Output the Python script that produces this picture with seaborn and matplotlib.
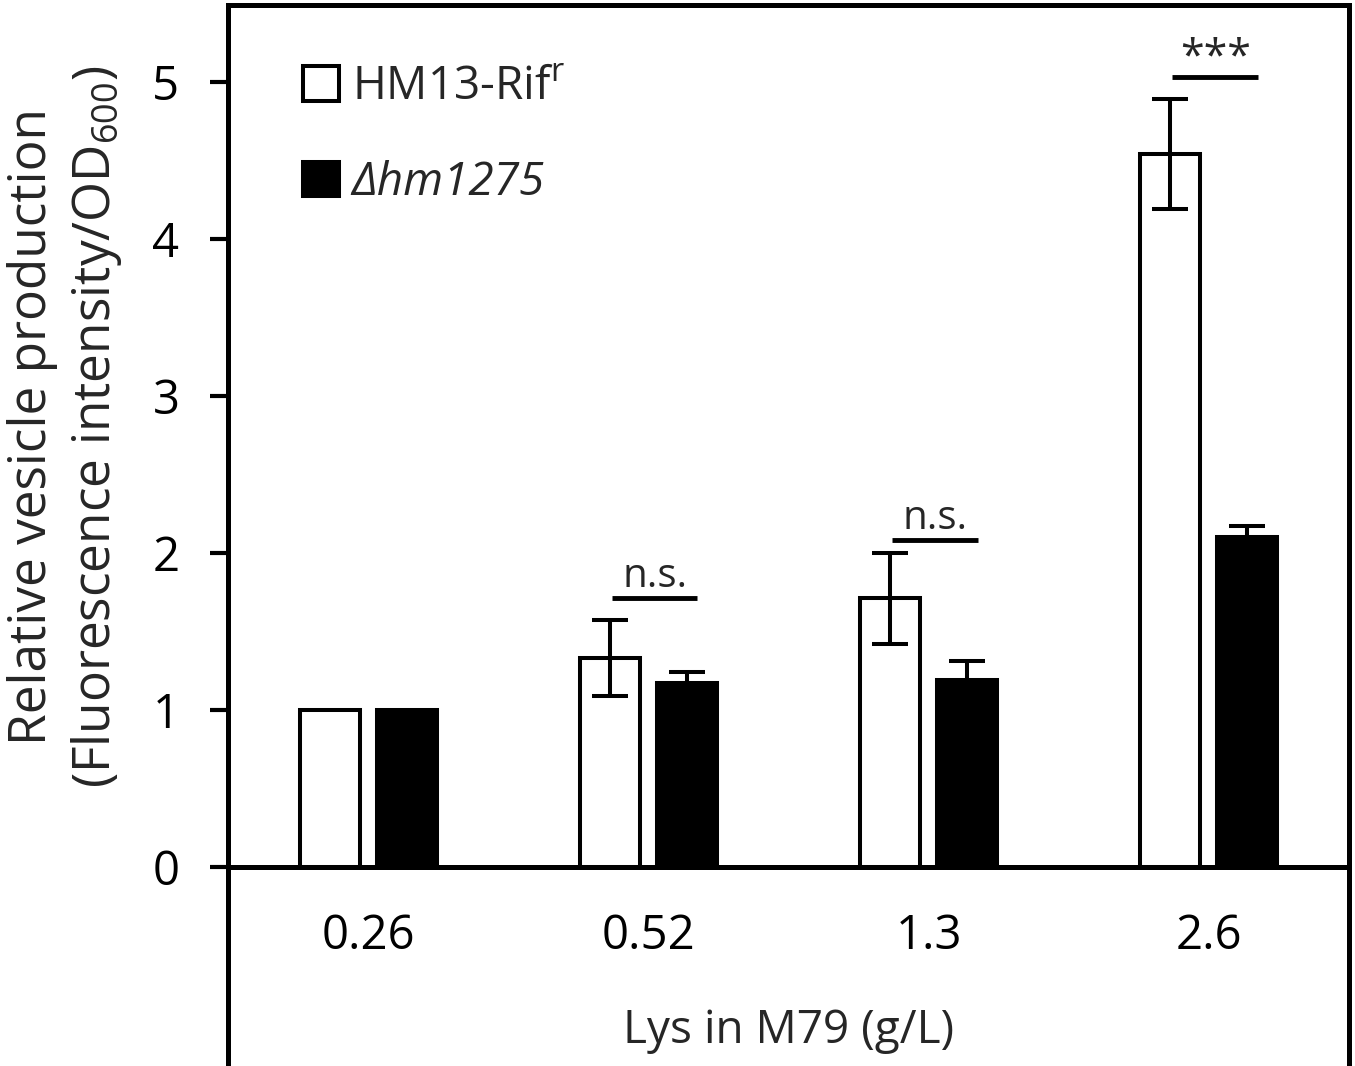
import numpy as np
import pandas as pd
import matplotlib
matplotlib.use("Agg")
import matplotlib.pyplot as plt
import seaborn as sns

# ---- data ----
categories = ["0.26", "0.52", "1.3", "2.6"]
strains = ["HM13-Rif", "hm1275"]
wt_mean = [1.00, 1.33, 1.71, 4.54]
wt_err = [0.00, 0.24, 0.29, 0.35]
ko_mean = [1.00, 1.17, 1.19, 2.10]
ko_err = [0.00, 0.07, 0.12, 0.07]
sig_labels = ["", "n.s.", "n.s.", "***"]
sig_y = [np.nan, 1.71, 2.08, 5.03]
legend_labels = ["HM13-Rif$^{\\mathregular{r}}$", "Δhm1275"]
y_ticks = [0, 1, 2, 3, 4, 5]

df = pd.DataFrame({
    "Lys": categories * 2,
    "strain": [strains[0]] * 4 + [strains[1]] * 4,
    "value": wt_mean + ko_mean,
})
errs = {strains[0]: wt_err, strains[1]: ko_err}

sns.set_style("white")
plt.rcParams["font.family"] = ["Open Sans", "DejaVu Sans"]
plt.rcParams["mathtext.fontset"] = "custom"
plt.rcParams["mathtext.rm"] = "Open Sans"
plt.rcParams["mathtext.it"] = "Open Sans:italic"
plt.rcParams["mathtext.bf"] = "Open Sans:bold"

FS_TICK = 34
FS_XLAB = 33
FS_LEG = 33
FS_YLAB = 37
LW = 2.9

fig = plt.figure(figsize=(13.55, 10.66), dpi=100)
ax = fig.add_axes([228 / 1355, 0.0, 1121 / 1355, 1061 / 1066])

sns.barplot(data=df, x="Lys", y="value", hue="strain", order=categories,
            hue_order=strains, palette={strains[0]: "white", strains[1]: "black"},
            saturation=1, edgecolor="black", linewidth=LW, width=0.55, gap=0.22,
            errorbar=None, ax=ax, legend=True, zorder=2)

# error bars from bar geometry
for cont, s in zip(ax.containers, strains):
    xs, ys, es = [], [], []
    for bar, e in zip(cont, errs[s]):
        if e > 0:
            xs.append(bar.get_x() + bar.get_width() / 2)
            ys.append(bar.get_height())
            es.append(e)
    ax.errorbar(xs, ys, yerr=es, fmt="none", ecolor="black", elinewidth=LW,
                capsize=13, capthick=LW, zorder=3)

# significance
for i, (lab, yv) in enumerate(zip(sig_labels, sig_y)):
    if not lab:
        continue
    x0, x1 = i - 0.13, i + 0.175
    ax.plot([x0, x1], [yv, yv], color="black", lw=3.5, solid_capstyle="butt", zorder=3)
    xm = (x0 + x1) / 2
    if lab == "***":
        ax.text(xm, yv + 0.12, lab, ha="center", va="center", fontsize=31)
    else:
        ax.text(xm, yv + 0.07, lab, ha="center", va="baseline", fontsize=29)

ax.set_xlim(-0.5, 3.5)
ax.set_ylim(-1.27, 5.49)
ax.set_yticks(y_ticks)
ax.set_yticklabels([str(t) for t in y_ticks])

for sp in ["left", "right", "top"]:
    ax.spines[sp].set_linewidth(3.6)
    ax.spines[sp].set_color("black")
ax.spines["bottom"].set_position(("data", 0))
ax.spines["bottom"].set_linewidth(3.6)
ax.spines["bottom"].set_color("black")

ax.tick_params(axis="y", direction="out", length=13, width=3.0, pad=22,
               labelsize=FS_TICK, left=True, colors="black")
ax.tick_params(axis="x", length=0, pad=33, labelsize=FS_TICK, colors="black")

ax.set_xlabel("Lys in M79 (g/L)", fontsize=FS_XLAB)
ax.xaxis.set_label_coords(0.5, 0.055)

ax.set_ylabel("Relative vesicle production\n(Fluorescence intensity/OD$_{\\mathregular{600}}$)",
              fontsize=FS_YLAB, linespacing=1.28)
ax.yaxis.label.set_va("center")
ax.yaxis.set_label_coords(-0.145, 0.603)

handles, _ = ax.get_legend_handles_labels()
leg = ax.legend(handles, legend_labels, loc="upper left", bbox_to_anchor=(0.067, 0.944),
                frameon=False, fontsize=FS_LEG, handlelength=0.78, handleheight=0.78,
                handletextpad=0.28, labelspacing=1.08, borderpad=0, borderaxespad=0)
leg.get_texts()[1].set_fontstyle("italic")

fig.savefig("out.png", dpi=100)
